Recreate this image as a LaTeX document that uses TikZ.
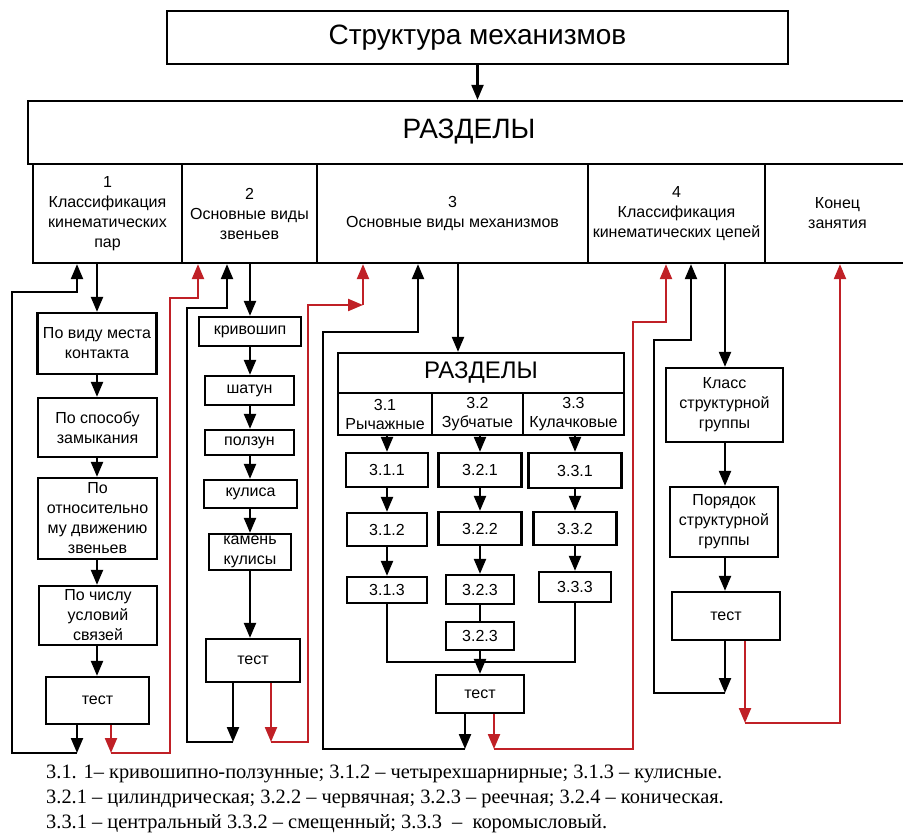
\documentclass[tikz,border=0pt]{standalone}
\usepackage{fontspec}
\setmainfont{Liberation Sans}
\newfontfamily\notefont{Liberation Serif}
\usetikzlibrary{arrows.meta}
\definecolor{lred}{RGB}{192,32,38}
\begin{document}
\begin{tikzpicture}[x=1pt,y=-1pt,
  box/.style={draw, line width=2.3pt, inner sep=0pt, align=center, font=\fontsize{16}{20}\selectfont},
  bigfont/.style={font=\fontsize{28}{32}\selectfont},
  arr/.style={line width=2.2pt, -{Triangle[length=15pt,width=12pt]}},
  ln/.style={line width=2.2pt},
  rarr/.style={arr, draw=lred},
  rln/.style={ln, draw=lred},
  note/.style={anchor=base west, inner sep=0pt, font=\notefont\fontsize{20.4}{25}\selectfont}]
\path[use as bounding box, fill=white] (0,0) rectangle (903,834);

% top level
\node[box, bigfont, minimum width=621pt, minimum height=53pt] (top) at (477.5,37.5) {Структура механизмов};
\node[box, bigfont, minimum width=882pt, minimum height=63pt] (razd) at (469,132.5) {\raisebox{7pt}{РАЗДЕЛЫ}};
\draw[arr] (top.south) -- (top.south |- razd.north);

% columns
\node[box, minimum width=149pt, minimum height=99pt] (c1) at (107.5,213.5) {1\\Классификация\\кинематических\\пар};
\node[box, minimum width=135pt, minimum height=99pt] (c2) at (249.5,213.5) {2\\Основные виды\\звеньев};
\node[box, minimum width=271pt, minimum height=99pt] (c3) at (452.5,213.5) {3\\Основные виды механизмов};
\node[box, minimum width=177pt, minimum height=99pt] (c4) at (676.5,213.5) {4\\Классификация\\кинематических цепей};
\node[box, minimum width=145pt, minimum height=99pt] (c5) at (837.5,213.5) {Конец\\занятия};

% column 1
\node[box, minimum width=119pt, minimum height=61pt] (b11) at (97,343.5) {По виду места\\контакта};
\node[box, minimum width=119pt, minimum height=59pt] (b12) at (97.5,427.5) {По способу\\замыкания};
\node[box, minimum width=119pt, minimum height=81pt] (b13) at (97.5,518.5) {По\\относительно\\му движению\\звеньев};
\node[box, minimum width=118pt, minimum height=59pt] (b14) at (98,615.5) {По числу\\условий\\связей};
\node[box, minimum width=103pt, minimum height=47pt] (b15) at (97.5,700.5) {тест};
\coordinate (x1) at (97,0);
\draw[arr] (c1.south -| x1) -- (b11.north -| x1);
\draw[arr] (b11.south -| x1) -- (b12.north -| x1);
\draw[arr] (b12.south -| x1) -- (b13.north -| x1);
\draw[arr] (b13.south -| x1) -- (b14.north -| x1);
\draw[arr] (b14.south -| x1) -- (b15.north -| x1);

% column 2
\node[box, minimum width=102pt, minimum height=29pt] (b21) at (250,331.5) {кривошип};
\node[box, minimum width=89pt, minimum height=29pt] (b22) at (249.5,390.5) {шатун};
\node[box, minimum width=89pt, minimum height=25pt] (b23) at (249.5,442.5) {ползун};
\node[box, minimum width=93pt, minimum height=28pt] (b24) at (250.5,494) {кулиса};
\node[box, minimum width=82pt, minimum height=36pt] (b25) at (250,552) {камень\\кулисы};
\node[box, minimum width=94pt, minimum height=43pt] (b26) at (253,660.5) {тест};
\coordinate (x2) at (250,0);
\draw[arr] (c2.south -| x2) -- (b21.north -| x2);
\draw[arr] (b21.south -| x2) -- (b22.north -| x2);
\draw[arr] (b22.south -| x2) -- (b23.north -| x2);
\draw[arr] (b23.south -| x2) -- (b24.north -| x2);
\draw[arr] (b24.south -| x2) -- (b25.north -| x2);
\draw[arr] (b25.south -| x2) -- (b26.north -| x2);

% column 3
\node[box, minimum width=286pt, minimum height=40pt, font=\fontsize{24}{28}\selectfont] (r3) at (481,373) {РАЗДЕЛЫ};
\node[box, minimum width=94pt, minimum height=42pt, font=\fontsize{16}{19}\selectfont] (s31) at (385,414) {3.1\\Рычажные};
\node[box, minimum width=91pt, minimum height=42pt, font=\fontsize{16}{19}\selectfont] (s32) at (477.5,414) {3.2\\Зубчатые};
\node[box, minimum width=101pt, minimum height=42pt, font=\fontsize{16}{19}\selectfont] (s33) at (573.5,414) {3.3\\Кулачковые};
\draw[arr] (c3.south -| 458,0) -- (r3.north -| 458,0);

\node[box, minimum width=82pt, minimum height=34pt] (b311) at (387,470) {3.1.1};
\node[box, minimum width=80pt, minimum height=33pt] (b312) at (387,529.5) {3.1.2};
\node[box, minimum width=80pt, minimum height=26pt] (b313) at (387,590) {3.1.3};
\node[box, minimum width=83pt, minimum height=34pt] (b321) at (480,470) {3.2.1};
\node[box, minimum width=83pt, minimum height=33pt] (b322) at (480,528.5) {3.2.2};
\node[box, minimum width=68pt, minimum height=29pt] (b323) at (480,589.5) {3.2.3};
\node[box, minimum width=68pt, minimum height=28pt] (b324) at (480,636) {3.2.3};
\node[box, minimum width=93pt, minimum height=35pt] (b331) at (575,470.5) {3.3.1};
\node[box, minimum width=83pt, minimum height=33pt] (b332) at (575,528.5) {3.3.2};
\node[box, minimum width=72pt, minimum height=30pt] (b333) at (575,587) {3.3.3};
\node[box, minimum width=88pt, minimum height=38pt] (b34) at (480,694) {тест};

\draw[arr] (s31.south -| b311.north) -- (b311.north);
\draw[arr] (b311.south) -- (b312.north);
\draw[arr] (b312.south) -- (b313.north);
\draw[arr] (s32.south -| b321.north) -- (b321.north);
\draw[arr] (b321.south) -- (b322.north);
\draw[arr] (b322.south) -- (b323.north);
\draw[ln] (b323.south) -- (b324.north);
\draw[arr] (s33.south -| b331.north) -- (b331.north);
\draw[arr] (b331.south) -- (b332.north);
\draw[arr] (b332.south) -- (b333.north);
\coordinate (m1) at (0,662);
\draw[ln] (b313.south) -- (b313.south |- m1) -- (b333.south |- m1) -- (b333.south);
\draw[arr] (b324.south) -- (b34.north);

% column 4
\node[box, minimum width=117pt, minimum height=74pt] (b41) at (724.5,405) {Класс\\структурной\\группы};
\node[box, minimum width=108pt, minimum height=70pt] (b42) at (724,522) {Порядок\\структурной\\группы};
\node[box, minimum width=108pt, minimum height=48pt] (b43) at (726,616) {тест};
\coordinate (x4) at (725,0);
\draw[arr] (c4.south -| x4) -- (b41.north -| x4);
\draw[arr] (b41.south -| x4) -- (b42.north -| x4);
\draw[arr] (b42.south -| x4) -- (b43.north -| x4);

% loop 1
\coordinate (k1a) at (77,753); \coordinate (k1b) at (12,753);
\coordinate (k1c) at (12,292); \coordinate (k1d) at (77,292);
\draw[arr] (b15.south -| k1a) -- (k1a);
\draw[arr] (k1a) -- (k1b) -- (k1c) -- (k1d) -- (c1.south -| k1d);
\coordinate (q1a) at (111,753); \coordinate (q1b) at (170,753);
\coordinate (q1c) at (170,298); \coordinate (q1d) at (198,298);
\draw[rarr] (b15.south -| q1a) -- (q1a);
\draw[rarr] (q1a) -- (q1b) -- (q1c) -- (q1d) -- (c2.south -| q1d);

% loop 2
\coordinate (k2a) at (233,742); \coordinate (k2b) at (187,742);
\coordinate (k2c) at (187,308); \coordinate (k2d) at (227,308);
\draw[arr] (b26.south -| k2a) -- (k2a);
\draw[arr] (k2a) -- (k2b) -- (k2c) -- (k2d) -- (c2.south -| k2d);
\coordinate (q2a) at (271,742); \coordinate (q2b) at (308,742);
\coordinate (q2c) at (308,305); \coordinate (q2d) at (363,305);
\draw[rarr] (b26.south -| q2a) -- (q2a);
\draw[rarr] (q2a) -- (q2b) -- (q2c) -- (q2d);
\draw[rarr] (q2d) -- (c3.south -| q2d);

% loop 3
\coordinate (k3a) at (465,749); \coordinate (k3b) at (323,749);
\coordinate (k3c) at (323,332); \coordinate (k3d) at (418,332);
\draw[arr] (b34.south -| k3a) -- (k3a);
\draw[arr] (k3a) -- (k3b) -- (k3c) -- (k3d) -- (c3.south -| k3d);
\coordinate (q3a) at (494,749); \coordinate (q3b) at (633,749);
\coordinate (q3c) at (633,322); \coordinate (q3d) at (666,322);
\draw[rarr] (b34.south -| q3a) -- (q3a);
\draw[rarr] (q3a) -- (q3b) -- (q3c) -- (q3d) -- (c4.south -| q3d);

% loop 4
\coordinate (k4a) at (725,693); \coordinate (k4b) at (654,693);
\coordinate (k4c) at (654,340); \coordinate (k4d) at (691,340);
\draw[arr] (b43.south -| k4a) -- (k4a);
\draw[arr] (k4a) -- (k4b) -- (k4c) -- (k4d) -- (c4.south -| k4d);
\coordinate (q4a) at (745,723); \coordinate (q4b) at (840,723);
\draw[rarr] (b43.south -| q4a) -- (q4a);
\draw[rarr] (q4a) -- (q4b) -- (c5.south -| q4b);

% notes
\node[note] (n1) at (46,778) {3.1. 1– кривошипно-ползунные; 3.1.2 – четырехшарнирные; 3.1.3 – кулисные.};
\node[note] (n2) at (46,803) {3.2.1 – цилиндрическая; 3.2.2 – червячная; 3.2.3 – реечная; 3.2.4 – коническая.};
\node[note] (n3) at (46,828) {3.3.1 – центральный 3.3.2 – смещенный; 3.3.3 \ – \ коромысловый.};
\end{tikzpicture}
\end{document}
